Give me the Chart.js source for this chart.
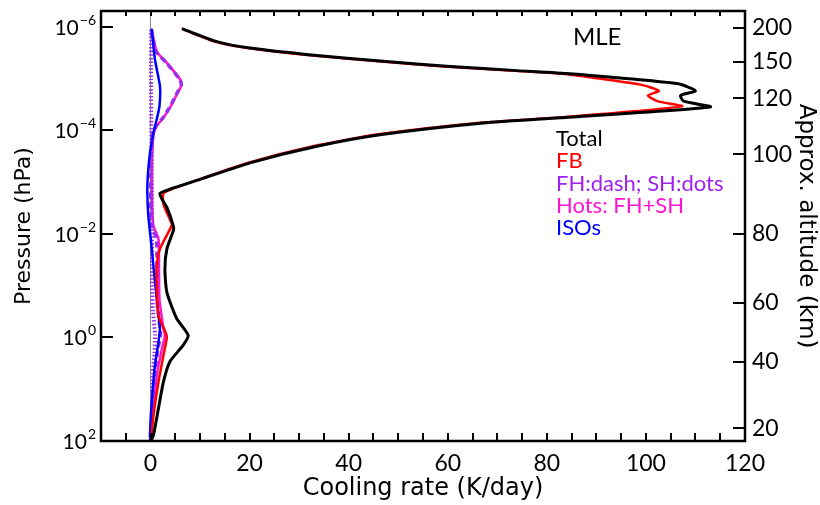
<!DOCTYPE html>
<html><head><meta charset="utf-8">
<script src="https://cdn.jsdelivr.net/npm/chart.js@4/dist/chart.umd.min.js"></script>
<style>html,body{margin:0;padding:0;background:#fff}#wrap{width:820px;height:505px}</style>
</head><body><div id="wrap"><canvas id="c" width="820" height="505"></canvas></div>
<script>
const FONT = 'Lato, "Noto Sans", sans-serif';
const TITLE_FONT = '"DejaVu Sans", sans-serif';

// ---- data (pressure in hPa, cooling rate in K/day) ----
const totalPressure = [1.12e-6, 1.95e-6, 2.60e-6, 3.63e-6, 4.68e-6, 5.89e-6, 7.08e-6, 8.13e-6, 1.26e-5, 1.74e-5, 2.14e-5, 2.75e-5, 3.55e-5, 5.75e-5, 7.24e-5, 1.20e-4, 2.04e-4, 4.27e-4, 8.91e-4, 1.38e-3, 1.66e-3, 2.14e-3, 3.09e-3, 7.08e-3, 8.71e-3, 1.95e-2, 4.79e-2, 0.135, 0.437, 0.912, 1.41, 2.95, 7.24, 23.4, 75.9, 100];
const totalRate = [6.6, 13.4, 20.1, 33.6, 47.0, 60.5, 74.0, 84.7, 106.3, 110.0, 107.0, 107.6, 113.0, 82.7, 67.2, 47.0, 33.6, 20.1, 10.0, 3.9, 1.9, 2.3, 3.3, 4.6, 4.6, 3.3, 2.9, 3.3, 5.3, 7.6, 6.6, 3.9, 2.6, 1.6, 0.6, 0.1];

const fbPressure = [1.12e-6, 1.95e-6, 2.60e-6, 3.63e-6, 4.68e-6, 5.89e-6, 7.08e-6, 8.13e-6, 1.32e-5, 1.74e-5, 2.14e-5, 2.75e-5, 3.47e-5, 5.75e-5, 7.24e-5, 1.20e-4, 2.04e-4, 4.27e-4, 8.91e-4, 1.38e-3, 1.66e-3, 2.69e-3, 5.25e-3, 6.76e-3, 1.95e-2, 4.17e-2, 0.115, 0.380, 0.741, 0.977, 2.24, 7.24, 31.6, 75.9, 100];
const fbRate = [6.5, 13.0, 19.6, 32.8, 46.0, 59.2, 72.5, 83.0, 98.9, 102.6, 100.4, 102.3, 107.3, 81.5, 66.0, 46.0, 32.8, 19.6, 9.8, 4.2, 2.6, 2.6, 3.9, 4.3, 1.9, 1.25, 1.25, 1.6, 2.9, 3.3, 2.6, 1.6, 0.6, 0.2, 0.05];

const hotsPressure = [1.15e-6, 3.02e-6, 5.01e-6, 1.05e-5, 1.32e-5, 2.04e-5, 3.72e-5, 5.75e-5, 8.32e-5, 1.20e-4, 3.16e-4, 1e-3, 3.16e-3, 7.08e-3, 1.26e-2, 4.17e-2, 0.182, 0.676, 0.912, 1.66, 5.37, 23.4, 75.9, 100];
const hotsRate = [0.25, 1.25, 3.3, 6.0, 6.3, 5.3, 3.9, 2.6, 1.25, 0.6, 0.35, 0.3, 0.35, 0.6, 1.6, 1.7, 1.8, 2.6, 2.9, 2.3, 1.25, 0.6, 0.05, 0];

const fhPressure = [1.15e-6, 3.02e-6, 5.01e-6, 1.05e-5, 1.32e-5, 2.04e-5, 3.72e-5, 5.75e-5, 8.32e-5, 1.20e-4, 3.16e-4, 1e-3, 3.16e-3, 7.08e-3, 1.26e-2, 4.17e-2, 0.182, 0.676, 0.912, 1.66, 5.37, 23.4, 75.9, 100];
const fhRate = [0.15, 1.15, 3.2, 5.9, 6.2, 5.2, 3.8, 2.5, 1.1, 0.45, 0.15, 0.05, 0.05, 0.3, 1.2, 1.3, 1.3, 1.9, 2.0, 1.5, 0.8, 0.3, 0.02, 0];

const shPressure = [1.15e-6, 1e-5, 1e-4, 3.16e-4, 1e-3, 3.16e-3, 1e-2, 3.16e-2, 0.1, 0.316, 0.912, 2.0, 5.0, 20, 75.9, 100];
const shRate = [0.1, 0.1, 0.15, 0.2, 0.25, 0.3, 0.3, 0.3, 0.3, 0.5, 0.9, 0.8, 0.45, 0.3, 0.03, 0];

const isoPressure = [1.15e-6, 4.37e-6, 1.41e-5, 3.47e-5, 6.17e-5, 1.12e-4, 2.69e-4, 7.59e-4, 1.58e-3, 4.47e-3, 1.95e-2, 8.51e-2, 0.380, 0.676, 1.23, 3.47, 17.4, 75.9, 100];
const isoRate = [0.25, 0.9, 1.9, 1.8, 1.25, 0.6, -0.1, -0.55, -0.65, -0.45, 0.25, 0.9, 1.6, 1.9, 1.6, 0.9, 0.25, -0.1, 0];

// ---- axes ----
const pressureTicks = [1e-6, 1e-4, 1e-2, 1, 100];
const altitudeKm = [20, 40, 60, 80, 100, 120, 150, 200];
const altitudePressure = [56.8, 2.92, 0.215, 0.0101, 2.93e-4, 2.43e-5, 4.78e-6, 1.06e-6];
const rateLabels = [0, 20, 40, 60, 80, 100, 120];

const legendNames = ['Total', 'FB', 'FH:dash; SH:dots', 'Hots: FH+SH', 'ISOs'];
const legendColors = ['#000000', '#ff0000', '#a020f0', '#ff14d2', '#0000ff'];
const panelLabel = 'MLE';

const pts = (P, R) => P.map((p, i) => ({x: R[i], y: p}));
const base = {showLine: true, pointRadius: 0, fill: false, tension: 0.2, borderCapStyle: 'round', borderJoinStyle: 'round'};

const frame = {
  id: 'frame',
  afterDraw(chart) {
    const {ctx, chartArea: a, scales} = chart;
    const xs = scales.x, ys = scales.y, y2 = scales.y2;
    ctx.save();
    ctx.strokeStyle = '#000';
    ctx.lineWidth = 2;
    const line = (x1, y1, x2, y2_) => { ctx.beginPath(); ctx.moveTo(x1, y1); ctx.lineTo(x2, y2_); ctx.stroke(); };
    xs.ticks.forEach(t => {
      const px = Math.round(xs.getPixelForValue(t.value));
      if (px <= a.left + 2 || px >= a.right - 2) return;
      line(px, a.bottom, px, a.bottom - 8);
      line(px, a.top, px, a.top + 5);
    });
    pressureTicks.forEach(v => { const py = Math.round(ys.getPixelForValue(v)); line(a.left, py, a.left + 12, py); });
    altitudePressure.forEach(v => { const py = Math.round(y2.getPixelForValue(v)); line(a.right - 12, py, a.right, py); });
    ctx.lineWidth = 2.5;
    ctx.strokeRect(a.left, a.top, a.right - a.left, a.bottom - a.top);

    // left tick labels 10^n
    ctx.fillStyle = '#000';
    ctx.textBaseline = 'alphabetic';
    pressureTicks.forEach(v => {
      const py = ys.getPixelForValue(v);
      const e = Math.round(Math.log10(v));
      const es = (e < 0 ? '\u2212' : '') + Math.abs(e);
      ctx.font = `14px ${FONT}`;
      const we = ctx.measureText(es).width;
      ctx.font = `21px ${FONT}`;
      const wb = ctx.measureText('10').width;
      const x0 = a.left - 6 - we - wb;
      ctx.textAlign = 'left';
      ctx.fillText('10', x0, py + 8);
      ctx.font = `14px ${FONT}`;
      ctx.fillText(es, x0 + wb + 1, py - 2);
    });

    // legend text
    ctx.font = `22px ${FONT}`;
    ctx.textAlign = 'left';
    legendNames.forEach((n, i) => {
      ctx.fillStyle = legendColors[i];
      ctx.fillText(n, 556, 146 + i * 22.3);
    });
    ctx.fillStyle = '#000';
    ctx.font = `24px ${FONT}`;
    ctx.fillText(panelLabel, 573, 45);
    ctx.restore();
  }
};

new Chart(document.getElementById('c'), {
  type: 'scatter',
  data: {
    datasets: [
      {...base, label: 'Total', data: pts(totalPressure, totalRate), borderColor: '#000000', borderWidth: 3, order: 0},
      {...base, label: 'FB', data: pts(fbPressure, fbRate), borderColor: '#ff0000', borderWidth: 2.5, order: 1},
      {...base, label: 'ISOs', data: pts(isoPressure, isoRate), borderColor: '#0000ff', borderWidth: 2.5, order: 2},
      {...base, label: 'FH', data: pts(fhPressure, fhRate), borderColor: '#9b30e8', borderWidth: 3.5, borderDash: [6, 4], borderCapStyle: 'butt', order: 3},
      {...base, label: 'SH', data: pts(shPressure, shRate), borderColor: '#9b30e8', borderWidth: 4, borderDash: [1.5, 2], borderCapStyle: 'butt', order: 4},
      {...base, label: 'Hots', data: pts(hotsPressure, hotsRate), borderColor: '#ff14d2', borderWidth: 2.5, order: 5}
    ]
  },
  options: {
    responsive: false,
    animation: false,
    devicePixelRatio: 1,
    layout: {padding: {top: 11, left: 0, right: 0, bottom: 0}},
    plugins: {legend: {display: false}, tooltip: {enabled: false}},
    scales: {
      x: {
        type: 'linear', position: 'bottom', min: -10, max: 120,
        border: {display: false},
        grid: {drawTicks: false, lineWidth: 1, color: c => (c.tick && c.tick.value === 0) ? '#8a8a8a' : 'rgba(0,0,0,0)'},
        ticks: {stepSize: 5, autoSkip: false, maxRotation: 0, padding: 9, color: '#000', font: {family: FONT, size: 23},
          callback: v => rateLabels.includes(v) ? String(v) : ''},
        title: {display: true, text: 'Cooling rate (K/day)', color: '#000', font: {family: TITLE_FONT, size: 24}, padding: {top: 0, bottom: 2}},
        afterFit: s => { s.height = 64; s.paddingLeft = 0; s.paddingRight = 0; }
      },
      y: {
        type: 'logarithmic', position: 'left', reverse: true, min: 5e-7, max: 100,
        border: {display: false},
        grid: {display: false, drawTicks: false},
        ticks: {display: false},
        afterBuildTicks: s => { s.ticks = pressureTicks.map(v => ({value: v})); },
        title: {display: true, text: 'Pressure (hPa)', color: '#000', font: {family: TITLE_FONT, size: 22}, padding: {top: 11, bottom: 0}},
        afterFit: s => { s.width = 101; s.paddingTop = 0; s.paddingBottom = 0; }
      },
      y2: {
        type: 'logarithmic', position: 'right', reverse: true, min: 5e-7, max: 100,
        border: {display: false},
        grid: {display: false, drawTicks: false},
        ticks: {padding: 7, color: '#000', autoSkip: false, font: {family: FONT, size: 23},
          callback: (v, i) => String(altitudeKm[i])},
        afterBuildTicks: s => { s.ticks = altitudePressure.map(v => ({value: v})); },
        title: {display: true, text: 'Approx. altitude (km)', color: '#000', font: {family: TITLE_FONT, size: 23}, padding: {top: 0, bottom: 0}},
        afterFit: s => { s.width = 75; s.paddingTop = 0; s.paddingBottom = 0; }
      }
    }
  },
  plugins: [frame]
});
</script></body></html>
